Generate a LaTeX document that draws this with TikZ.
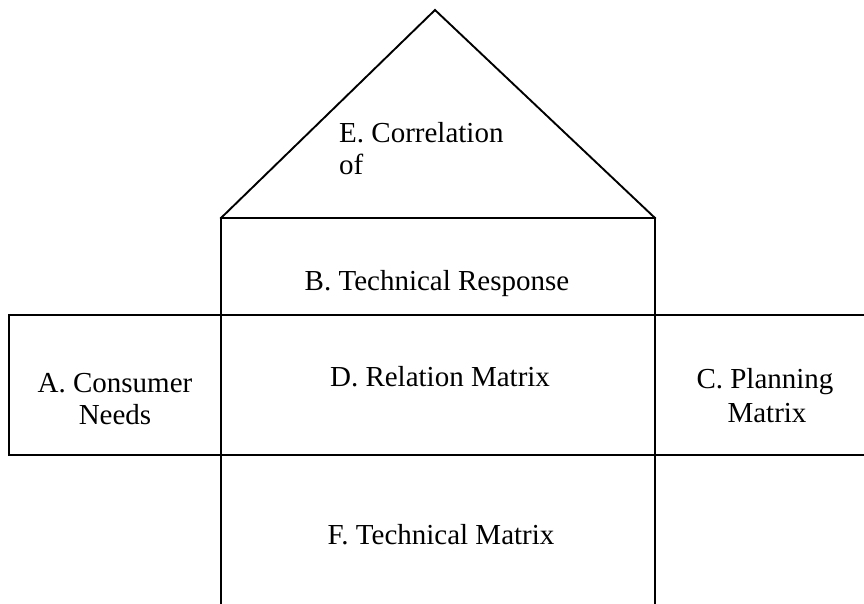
\documentclass[tikz,border=0pt]{standalone}
\usepackage{fontspec}
\setmainfont{Liberation Serif}
\begin{document}
\begin{tikzpicture}[x=1pt,y=-1pt,
  frame/.style={line width=1.9pt,line cap=rect,line join=miter},
  lbl/.style={anchor=base,inner sep=0pt,font=\fontsize{29}{33}\selectfont}]
\useasboundingbox (0,0) rectangle (864,603);
% key points
\coordinate (apex) at (435,10);
\coordinate (rl) at (221,218);
\coordinate (rr) at (655,218);
\coordinate (fl) at (221,603);
\coordinate (fr) at (655,603);
\coordinate (xl1) at (9,315);
\coordinate (xl2) at (9,455);
\coordinate (xr1) at (864,315);
\coordinate (xr2) at (864,455);
% roof and top box
\draw[frame] (rl) -- (apex) -- (rr);
\draw[frame] (rl) -- (rr);
\draw[frame] (rl) -- (fl);
\draw[frame] (rr) -- (fr);
% middle row
\draw[frame] (xr1) -- (xl1) -- (xl2) -- (xr2);
% labels
\node[lbl,anchor=base west] (E1) at (339,142) {E. Correlation};
\node[lbl,anchor=base west] (E2) at (339,174) {of};
\node[lbl] (B) at (437,290) {B. Technical Response};
\node[lbl] (A1) at (115,392) {A. Consumer};
\node[lbl] (A2) at (115,424) {Needs};
\node[lbl] (D) at (440,386) {D. Relation Matrix};
\node[lbl] (C1) at (765,388) {C. Planning};
\node[lbl] (C2) at (767,422) {Matrix};
\node[lbl] (F) at (441,544) {F. Technical Matrix};
\end{tikzpicture}
\end{document}
